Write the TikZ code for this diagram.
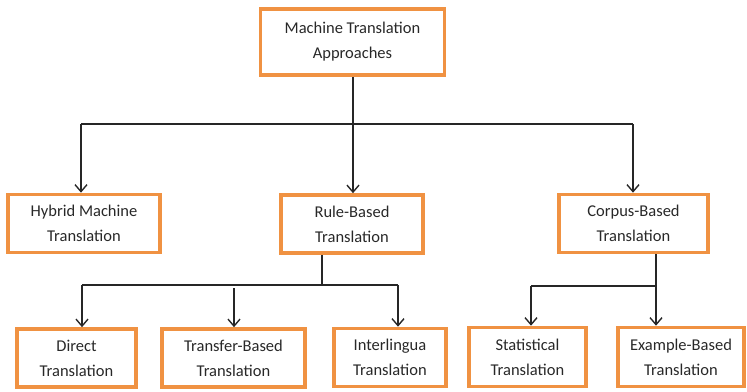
\documentclass[tikz,border=0pt]{standalone}
\usepackage{fontspec}
\setmainfont{Carlito}
\usetikzlibrary{arrows.meta}
\definecolor{boxorange}{RGB}{240,146,66}
\definecolor{txt}{RGB}{40,40,40}
\tikzset{
  box/.style={draw=boxorange, line width=3.6pt, rectangle, align=center,
    inner sep=0pt, text=txt, font=\fontsize{16.5}{25}\selectfont},
  link/.style={draw=black!85, line width=1.4pt},
  arr/.style={link, -{Straight Barb[length=7pt, width=12pt, line width=1.4pt]}}
}
\begin{document}
\begin{tikzpicture}[x=1pt, y=-1pt]
  \useasboundingbox (0,0) rectangle (747,391);

  % boxes (centre, border size)
  \node[box, minimum width=184pt, minimum height=66pt] (top) at (352.5,42) {Machine Translation\\Approaches};
  \node[box, minimum width=152pt, minimum height=58pt] (hybrid) at (84,223.5) {Hybrid Machine\\Translation};
  \node[box, minimum width=142pt, minimum height=58pt] (rule) at (352,224) {Rule-Based\\Translation};
  \node[box, minimum width=149pt, minimum height=58pt] (corpus) at (633.5,223.5) {Corpus-Based\\Translation};
  \node[box, minimum width=119pt, minimum height=58pt] (direct) at (76.5,358) {Direct\\Translation};
  \node[box, minimum width=143pt, minimum height=58pt] (transfer) at (233.5,358) {Transfer-Based\\Translation};
  \node[box, minimum width=112pt, minimum height=58pt] (inter) at (390,357.5) {Interlingua\\Translation};
  \node[box, minimum width=117pt, minimum height=59pt] (stat) at (527.5,357) {Statistical\\Translation};
  \node[box, minimum width=126pt, minimum height=59pt] (example) at (681,357) {Example-Based\\Translation};

  % first level branching
  \coordinate (t0) at (353,124);
  \coordinate (tL) at (81,124);
  \coordinate (tR) at (633,124);
  \draw[link] (top.south -| t0) -- (t0);
  \draw[link] (tL) -- (tR);
  \draw[arr] (tL) -- (tL |- hybrid.north);
  \draw[arr] (t0) -- (t0 |- rule.north);
  \draw[arr] (tR) -- (tR |- corpus.north);

  % rule-based branching
  \coordinate (r0) at (322,285);
  \coordinate (rL) at (82,285);
  \coordinate (rM) at (234,288);
  \coordinate (rR) at (398,285);
  \draw[link] (rule.south -| r0) -- (r0);
  \draw[link] (rL) -- (r0) -- (rR);
  \draw[arr] (rL) -- (rL |- direct.north);
  \draw[arr] (rM) -- (rM |- transfer.north);
  \draw[arr] (rR) -- (rR |- inter.north);

  % corpus-based branching
  \coordinate (c0) at (656,286);
  \coordinate (cL) at (531,286);
  \draw[link] (corpus.south -| c0) -- (c0);
  \draw[link] (cL) -- (c0);
  \draw[arr] (cL) -- (cL |- stat.north);
  \draw[arr] (c0) -- (c0 |- example.north);
\end{tikzpicture}
\end{document}
